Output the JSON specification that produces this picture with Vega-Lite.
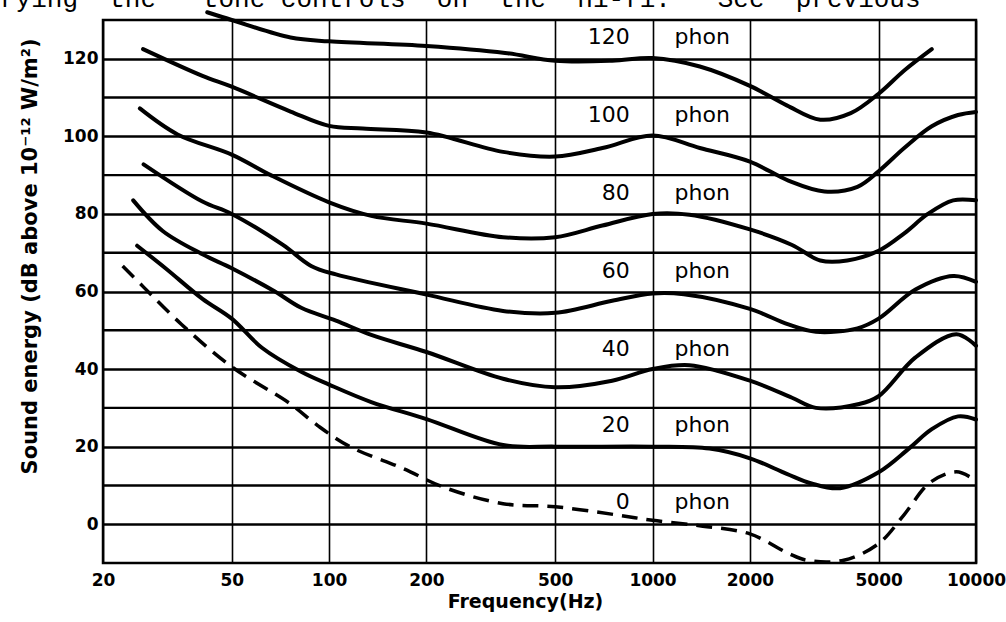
{
  "$schema": "https://vega.github.io/schema/vega-lite/v6.json",
  "width": 873,
  "height": 543,
  "autosize": {"type": "none"},
  "padding": {"left": 103, "top": 20, "right": 30, "bottom": 59},
  "background": "white",
  "title": {
    "text": "rying\u00a0\u00a0the\u00a0\u00a0\u00a0tone\u00a0controls\u00a0\u00a0on\u00a0\u00a0the\u00a0\u00a0hi-fi.\u00a0\u00a0\u00a0See\u00a0\u00a0previous",
    "anchor": "start",
    "frame": "group",
    "orient": "top",
    "offset": 0,
    "baseline": "alphabetic",
    "dx": -103,
    "dy": 29,
    "font": "Liberation Mono",
    "fontSize": 26,
    "fontWeight": "normal",
    "color": "black"
  },
  "config": {
    "view": {"stroke": "black", "strokeWidth": 2.5},
    "axis": {"gridColor": "black", "gridOpacity": 1, "domain": false, "ticks": false, "labelColor": "black", "titleColor": "black"}
  },
  "datasets": {
    "curves": [
      {"phon": 120, "f": 42, "db": 132},
      {"phon": 120, "f": 50, "db": 130},
      {"phon": 120, "f": 76, "db": 125.5},
      {"phon": 120, "f": 100, "db": 124.5},
      {"phon": 120, "f": 200, "db": 123.3},
      {"phon": 120, "f": 350, "db": 121.5},
      {"phon": 120, "f": 500, "db": 119.5},
      {"phon": 120, "f": 750, "db": 119.5},
      {"phon": 120, "f": 1000, "db": 120.2},
      {"phon": 120, "f": 1400, "db": 118},
      {"phon": 120, "f": 2000, "db": 113},
      {"phon": 120, "f": 2600, "db": 108},
      {"phon": 120, "f": 3300, "db": 104.3},
      {"phon": 120, "f": 4100, "db": 106},
      {"phon": 120, "f": 5000, "db": 111},
      {"phon": 120, "f": 6000, "db": 117},
      {"phon": 120, "f": 7300, "db": 122.5},
      {"phon": 100, "f": 26.6, "db": 122.5},
      {"phon": 100, "f": 40.6, "db": 115.6},
      {"phon": 100, "f": 50, "db": 112.8},
      {"phon": 100, "f": 76, "db": 106.4},
      {"phon": 100, "f": 100, "db": 102.7},
      {"phon": 100, "f": 127, "db": 102},
      {"phon": 100, "f": 200, "db": 101},
      {"phon": 100, "f": 345, "db": 96},
      {"phon": 100, "f": 500, "db": 94.8},
      {"phon": 100, "f": 700, "db": 97},
      {"phon": 100, "f": 1000, "db": 100.2},
      {"phon": 100, "f": 1400, "db": 97},
      {"phon": 100, "f": 2000, "db": 93.5},
      {"phon": 100, "f": 2630, "db": 88.6},
      {"phon": 100, "f": 3400, "db": 85.8},
      {"phon": 100, "f": 4300, "db": 87},
      {"phon": 100, "f": 5000, "db": 91},
      {"phon": 100, "f": 6000, "db": 97},
      {"phon": 100, "f": 7300, "db": 102.6},
      {"phon": 100, "f": 8800, "db": 105.5},
      {"phon": 100, "f": 10000, "db": 106.3},
      {"phon": 80, "f": 26, "db": 107.2},
      {"phon": 80, "f": 34, "db": 100.5},
      {"phon": 80, "f": 50, "db": 95.3},
      {"phon": 80, "f": 66, "db": 90},
      {"phon": 80, "f": 100, "db": 83},
      {"phon": 80, "f": 135, "db": 79.5},
      {"phon": 80, "f": 200, "db": 77.5},
      {"phon": 80, "f": 345, "db": 74},
      {"phon": 80, "f": 500, "db": 74},
      {"phon": 80, "f": 700, "db": 77},
      {"phon": 80, "f": 1000, "db": 80},
      {"phon": 80, "f": 1300, "db": 79.8},
      {"phon": 80, "f": 2000, "db": 76},
      {"phon": 80, "f": 2700, "db": 72},
      {"phon": 80, "f": 3300, "db": 68},
      {"phon": 80, "f": 4000, "db": 68},
      {"phon": 80, "f": 5000, "db": 70.5},
      {"phon": 80, "f": 6000, "db": 75},
      {"phon": 80, "f": 7100, "db": 80},
      {"phon": 80, "f": 8500, "db": 83.5},
      {"phon": 80, "f": 10000, "db": 83.5},
      {"phon": 60, "f": 26.7, "db": 92.8},
      {"phon": 60, "f": 40.6, "db": 83.2},
      {"phon": 60, "f": 50, "db": 80},
      {"phon": 60, "f": 72, "db": 72},
      {"phon": 60, "f": 88, "db": 66.6},
      {"phon": 60, "f": 105, "db": 64.4},
      {"phon": 60, "f": 200, "db": 59.2},
      {"phon": 60, "f": 345, "db": 55},
      {"phon": 60, "f": 500, "db": 54.5},
      {"phon": 60, "f": 750, "db": 57.6},
      {"phon": 60, "f": 1000, "db": 59.5},
      {"phon": 60, "f": 1250, "db": 59.3},
      {"phon": 60, "f": 2000, "db": 55.5},
      {"phon": 60, "f": 2630, "db": 51.5},
      {"phon": 60, "f": 3200, "db": 49.6},
      {"phon": 60, "f": 4300, "db": 50.5},
      {"phon": 60, "f": 5000, "db": 53},
      {"phon": 60, "f": 6500, "db": 60.5},
      {"phon": 60, "f": 8500, "db": 64},
      {"phon": 60, "f": 10000, "db": 62.5},
      {"phon": 40, "f": 24.8, "db": 83.5},
      {"phon": 40, "f": 30.6, "db": 75.6},
      {"phon": 40, "f": 40.6, "db": 69.6},
      {"phon": 40, "f": 50, "db": 66},
      {"phon": 40, "f": 68, "db": 60},
      {"phon": 40, "f": 82, "db": 55.8},
      {"phon": 40, "f": 105, "db": 52.5},
      {"phon": 40, "f": 135, "db": 48.8},
      {"phon": 40, "f": 200, "db": 44.4},
      {"phon": 40, "f": 345, "db": 37.5},
      {"phon": 40, "f": 500, "db": 35.3},
      {"phon": 40, "f": 750, "db": 37},
      {"phon": 40, "f": 1000, "db": 40},
      {"phon": 40, "f": 1300, "db": 41},
      {"phon": 40, "f": 2000, "db": 37},
      {"phon": 40, "f": 2700, "db": 32.6},
      {"phon": 40, "f": 3200, "db": 30},
      {"phon": 40, "f": 4350, "db": 31},
      {"phon": 40, "f": 5000, "db": 33},
      {"phon": 40, "f": 6500, "db": 43},
      {"phon": 40, "f": 8700, "db": 49},
      {"phon": 40, "f": 10000, "db": 46},
      {"phon": 20, "f": 25.5, "db": 71.8},
      {"phon": 20, "f": 31.2, "db": 66},
      {"phon": 20, "f": 40.6, "db": 58.1},
      {"phon": 20, "f": 50, "db": 53},
      {"phon": 20, "f": 62, "db": 45.5},
      {"phon": 20, "f": 82, "db": 39.3},
      {"phon": 20, "f": 100, "db": 36},
      {"phon": 20, "f": 135, "db": 31.5},
      {"phon": 20, "f": 200, "db": 27.1},
      {"phon": 20, "f": 345, "db": 20.4},
      {"phon": 20, "f": 500, "db": 20},
      {"phon": 20, "f": 1000, "db": 20},
      {"phon": 20, "f": 1500, "db": 19.5},
      {"phon": 20, "f": 2000, "db": 17},
      {"phon": 20, "f": 2600, "db": 13},
      {"phon": 20, "f": 3100, "db": 10.5},
      {"phon": 20, "f": 3800, "db": 9.3},
      {"phon": 20, "f": 5000, "db": 13.4},
      {"phon": 20, "f": 6200, "db": 19.5},
      {"phon": 20, "f": 7300, "db": 24.5},
      {"phon": 20, "f": 8800, "db": 27.8},
      {"phon": 20, "f": 10000, "db": 27},
      {"phon": 0, "f": 23, "db": 66.6},
      {"phon": 0, "f": 26.8, "db": 61},
      {"phon": 0, "f": 35, "db": 51.5},
      {"phon": 0, "f": 50, "db": 40.6},
      {"phon": 0, "f": 76, "db": 31},
      {"phon": 0, "f": 92, "db": 25.5},
      {"phon": 0, "f": 116, "db": 20},
      {"phon": 0, "f": 170, "db": 14.3},
      {"phon": 0, "f": 225, "db": 9.6},
      {"phon": 0, "f": 345, "db": 5.3},
      {"phon": 0, "f": 500, "db": 4.5},
      {"phon": 0, "f": 760, "db": 2.5},
      {"phon": 0, "f": 1000, "db": 1},
      {"phon": 0, "f": 1430, "db": -0.5},
      {"phon": 0, "f": 2000, "db": -2.5},
      {"phon": 0, "f": 2630, "db": -7.5},
      {"phon": 0, "f": 3000, "db": -9.3},
      {"phon": 0, "f": 3900, "db": -9.3},
      {"phon": 0, "f": 5000, "db": -5},
      {"phon": 0, "f": 6000, "db": 2.5},
      {"phon": 0, "f": 7200, "db": 10.7},
      {"phon": 0, "f": 8700, "db": 13.5},
      {"phon": 0, "f": 9800, "db": 11.7}
    ],
    "labels": [
      {"phon": 120, "db": 125.6},
      {"phon": 100, "db": 105.5},
      {"phon": 80, "db": 85.5},
      {"phon": 60, "db": 65.3},
      {"phon": 40, "db": 45.3},
      {"phon": 20, "db": 25.5},
      {"phon": 0, "db": 5.6}
    ],
    "minorgrid": [
      {"db": 10}, {"db": 30}, {"db": 50}, {"db": 70}, {"db": 90}, {"db": 110}
    ]
  },
  "layer": [
    {
      "data": {"name": "minorgrid"},
      "mark": {"type": "rule", "color": "black", "strokeWidth": 2.4},
      "encoding": {
        "y": {"field": "db", "type": "quantitative"}
      }
    },
    {
      "data": {"name": "curves"},
      "transform": [{"filter": "datum.phon > 0"}],
      "mark": {"type": "line", "color": "black", "strokeWidth": 4, "interpolate": "catmull-rom", "strokeCap": "round", "clip": false},
      "encoding": {
        "x": {
          "field": "f", "type": "quantitative",
          "scale": {"type": "log", "domain": [20, 10000], "nice": false},
          "axis": {
            "values": [20, 50, 100, 200, 500, 1000, 2000, 5000, 10000],
            "format": "d",
            "grid": true, "gridWidth": 1.6,
            "labelFont": "DejaVu Sans", "labelFontWeight": "bold", "labelFontSize": 17,
            "labelPadding": 9, "labelFlush": false, "labelOverlap": false,
            "title": "Frequency(Hz)",
            "titleFont": "DejaVu Sans", "titleFontWeight": "bold", "titleFontSize": 19,
            "titleX": 422, "titleY": 44, "titleBaseline": "alphabetic", "titleAlign": "center"
          }
        },
        "y": {
          "field": "db", "type": "quantitative",
          "scale": {"domain": [-10, 130], "nice": false, "zero": false},
          "axis": {
            "values": [0, 20, 40, 60, 80, 100, 120],
            "grid": true, "gridWidth": 2.4,
            "labelFont": "DejaVu Sans", "labelFontWeight": "bold", "labelFontSize": 17,
            "labelPadding": 5,
            "title": "Sound energy (dB above 10\u207b\u00b9\u00b2 W/m\u00b2)",
            "titleFont": "DejaVu Sans", "titleFontWeight": "bold", "titleFontSize": 21,
            "titleX": -73, "titleY": 236, "titleBaseline": "middle", "titleAlign": "center", "titleAngle": -90
          }
        },
        "detail": {"field": "phon", "type": "nominal"}
      }
    },
    {
      "data": {"name": "curves"},
      "transform": [{"filter": "datum.phon == 0"}],
      "mark": {"type": "line", "color": "black", "strokeWidth": 3.5, "interpolate": "catmull-rom", "strokeDash": [16, 9], "clip": false},
      "encoding": {
        "x": {"field": "f", "type": "quantitative"},
        "y": {"field": "db", "type": "quantitative"}
      }
    },
    {
      "data": {"name": "labels"},
      "mark": {"type": "text", "align": "right", "baseline": "middle", "font": "DejaVu Sans", "fontSize": 22, "color": "black"},
      "encoding": {
        "x": {"datum": 850, "type": "quantitative"},
        "y": {"field": "db", "type": "quantitative"},
        "text": {"field": "phon", "type": "nominal"}
      }
    },
    {
      "data": {"name": "labels"},
      "mark": {"type": "text", "align": "left", "baseline": "middle", "font": "DejaVu Sans", "fontSize": 22, "color": "black"},
      "encoding": {
        "x": {"datum": 1170, "type": "quantitative"},
        "y": {"field": "db", "type": "quantitative"},
        "text": {"value": "phon"}
      }
    }
  ]
}
